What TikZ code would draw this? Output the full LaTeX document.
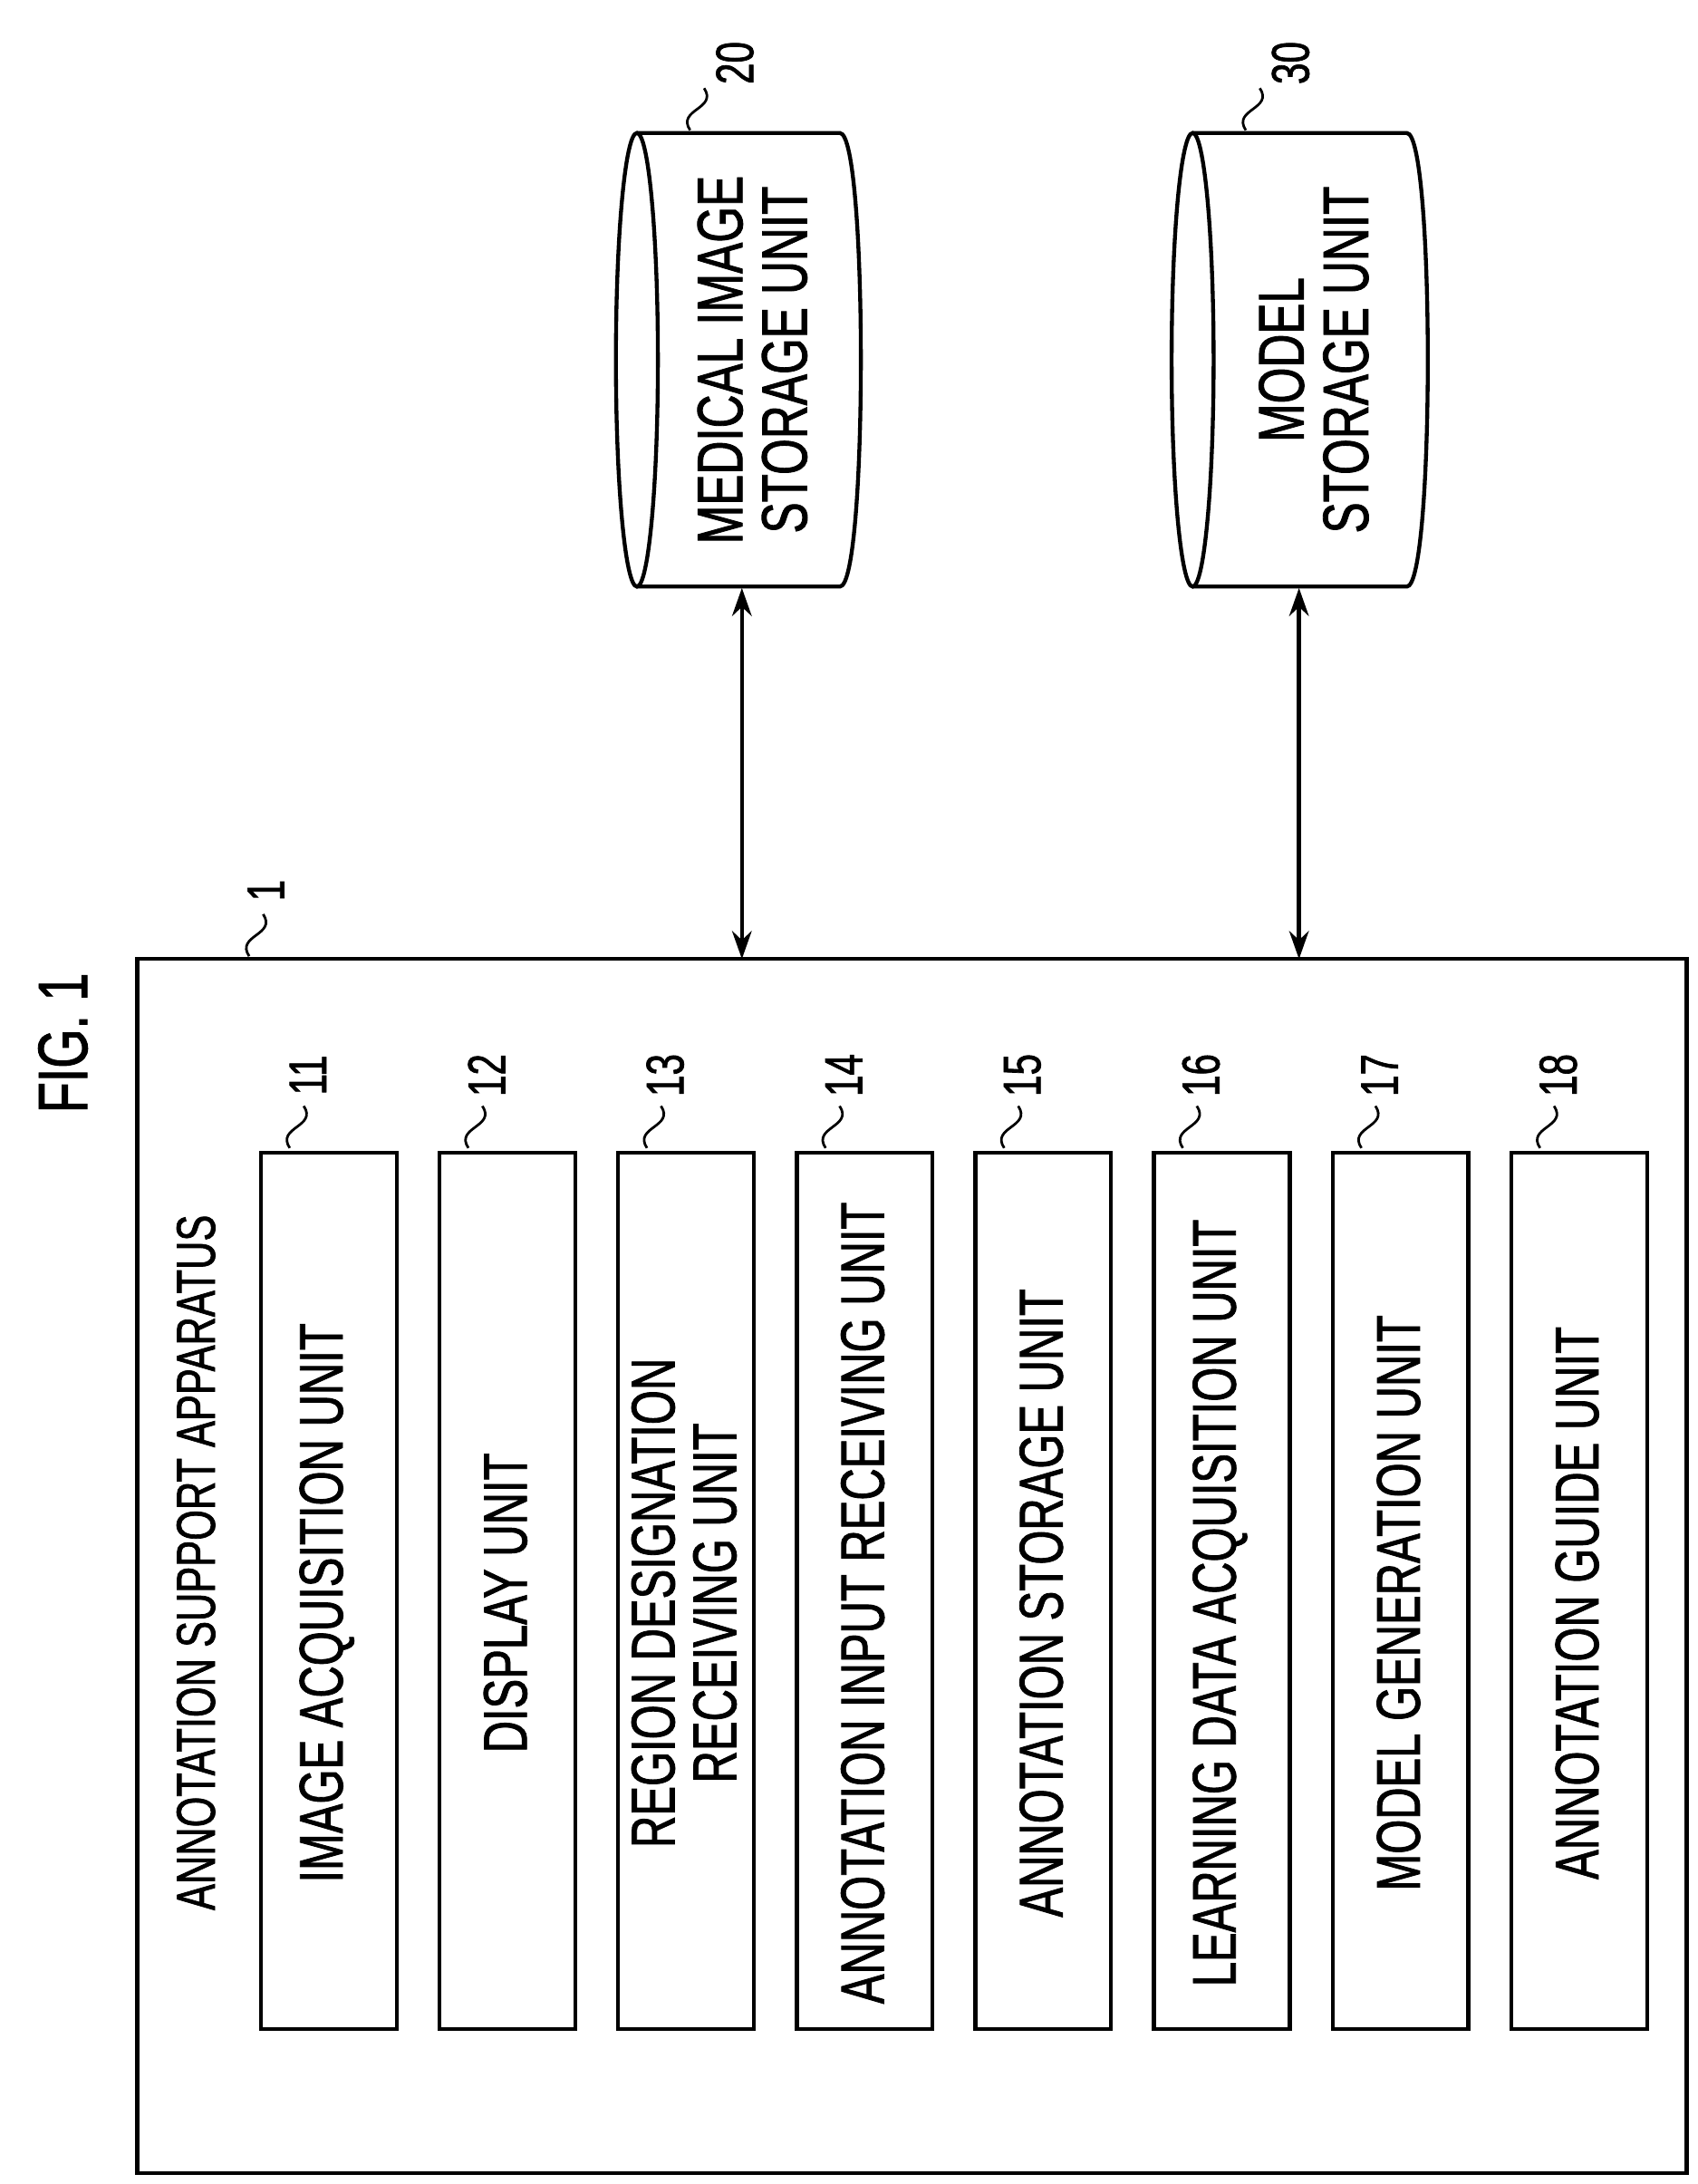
\documentclass[tikz,border=0pt]{standalone}
\usepackage{fontspec}
\setmainfont[FakeStretch=0.72,FakeBold=1.2]{Liberation Sans}
\usetikzlibrary{arrows.meta}
\begin{document}
\begin{tikzpicture}[x=1pt,y=-1pt,
  lw/.style={line width=2.8pt},
  unit/.style={draw,lw,minimum width=97pt,minimum height=626pt,anchor=north west},
  txt/.style={rotate=90,font=\fontsize{44}{44}\selectfont,align=center},
  num/.style={rotate=90,font=\fontsize{38}{40}\selectfont},
  tl/.style={line width=1.8pt},
  arr/.style={lw,{Stealth[length=20pt,width=14pt]}-{Stealth[length=20pt,width=14pt]}}]
\useasboundingbox (0,0) rectangle (1213,1560);
\node[txt,font=\fontsize{50}{54}\selectfont] (fig) at (45,745) {FIG. 1};
\draw[lw] (98,685) rectangle (1205,1552);
\coordinate (appb1) at (530,685);
\coordinate (appb2) at (928,685);
\node[num] (n1) at (190,636) {1};
\draw[tl] (178,683) .. controls (168,668) and (198,668) .. (188,653);
\node[txt,anchor=west,font=\fontsize{39}{44}\selectfont] (title) at (140,1368) {ANNOTATION SUPPORT APPARATUS};
\foreach \i/\t [count=\k from 0] in {11/IMAGE ACQUISITION UNIT,12/DISPLAY UNIT,13/{REGION DESIGNATION\\RECEIVING UNIT},14/ANNOTATION INPUT RECEIVING UNIT,15/ANNOTATION STORAGE UNIT,16/LEARNING DATA ACQUISITION UNIT,17/MODEL GENERATION UNIT,18/ANNOTATION GUIDE UNIT}{
  \node[unit] (u\i) at ({185+127.6*\k},822) {};
  \node[txt] (t\i) at ({233.5+127.6*\k},1145) {\t};
  \node[num] (l\i) at ({220+127.6*\k},768) {\i};
  \draw[tl] ({207+127.6*\k},820) .. controls ({197+127.6*\k},805) and ({227+127.6*\k},805) .. ({217+127.6*\k},790);
}
% cylinders
\foreach \n/\xa/\xb/\tx in {20/455/600/{MEDICAL IMAGE\\STORAGE UNIT},30/852/1005/{MODEL\\STORAGE UNIT}}{
  \draw[lw] (\xa,257) ellipse [x radius=15, y radius=162];
  \draw[lw] (\xa,95) -- (\xb,95) .. controls ({\xb+20},95) and ({\xb+20},419) .. (\xb,419) -- (\xa,419);
  \node[txt,font=\fontsize{46}{46}\selectfont] (c\n) at ({(\xa+\xb)/2+10},257) {\tx};
  \node[num] (l\n) at ({\xa+70},45) {\n};
  \draw[tl] ({\xa+38},93) .. controls ({\xa+28},78) and ({\xa+58},78) .. ({\xa+48},63);
}
\coordinate (a20) at (530,420);
\coordinate (a30) at (928,420);
\draw[arr] (a20) -- (appb1);
\draw[arr] (a30) -- (appb2);
\end{tikzpicture}
\end{document}
